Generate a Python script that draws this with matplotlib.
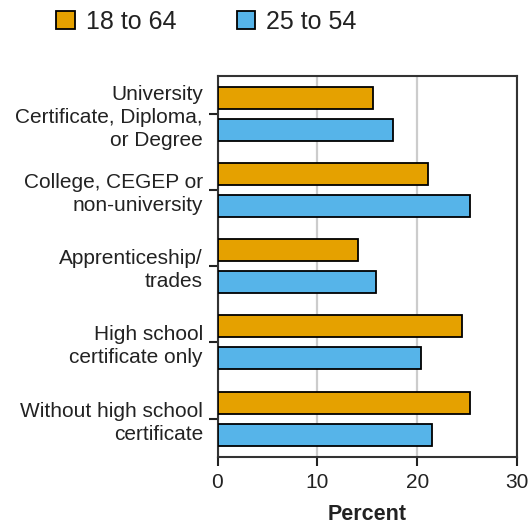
import matplotlib.pyplot as plt
from matplotlib.patches import Patch
import numpy as np

plt.rcParams["font.family"] = ["Liberation Sans", "DejaVu Sans"]

categories = [
    "University\nCertificate, Diploma,\nor Degree",
    "College, CEGEP or\nnon-university",
    "Apprenticeship/\ntrades",
    "High school\ncertificate only",
    "Without high school\ncertificate",
]
age_18_64 = [15.6, 21.05, 14.05, 24.45, 25.25]
age_25_54 = [17.6, 25.25, 15.85, 20.4, 21.5]
series_labels = ["18 to 64", "25 to 54"]
xticks = [0, 10, 20, 30]

orange = "#E5A100"
blue = "#56B4E9"
txt = "#222222"
fs = 15

fig = plt.figure(figsize=(5.31, 5.25), dpi=100)
ax = fig.add_axes([217.5 / 531, 1 - 456.7 / 525, 299.8 / 531, 381 / 525])

y = np.arange(len(categories))
h = 0.29
off = 0.21
ax.barh(y - off, age_18_64, height=h, color=orange, edgecolor="black", linewidth=1.3, zorder=3)
ax.barh(y + off, age_25_54, height=h, color=blue, edgecolor="black", linewidth=1.3, zorder=3)

ax.set_ylim(len(categories) - 0.5, -0.5)
ax.set_xlim(0, 30)
ax.set_xticks(xticks)
ax.set_xticklabels([str(t) for t in xticks], fontsize=fs, color=txt)
ax.set_yticks(y)
ax.set_yticklabels(categories, fontsize=fs, linespacing=1.26, color=txt)

ax.grid(axis="x", color="#cccccc", linewidth=1.6, zorder=0)
for s in ax.spines.values():
    s.set_color("#333333")
    s.set_linewidth(1.5)
ax.tick_params(axis="both", length=6.5, width=1.5, color="#222222")
ax.tick_params(axis="y", pad=4)
ax.tick_params(axis="x", pad=5)

ax.set_xlabel("Percent", fontsize=15.5, fontweight="bold", labelpad=9, color=txt)

handles = [Patch(facecolor=orange, edgecolor="black", linewidth=1.3),
           Patch(facecolor=blue, edgecolor="black", linewidth=1.3)]
fig.legend(handles, series_labels, loc="upper left", bbox_to_anchor=(46 / 531, 1 - 0 / 525),
           ncol=2, frameon=False, fontsize=18, handlelength=0.75, handleheight=0.75,
           handletextpad=0.45, columnspacing=2.4, borderaxespad=0, labelcolor=txt)

plt.savefig("out.png", dpi=100)
